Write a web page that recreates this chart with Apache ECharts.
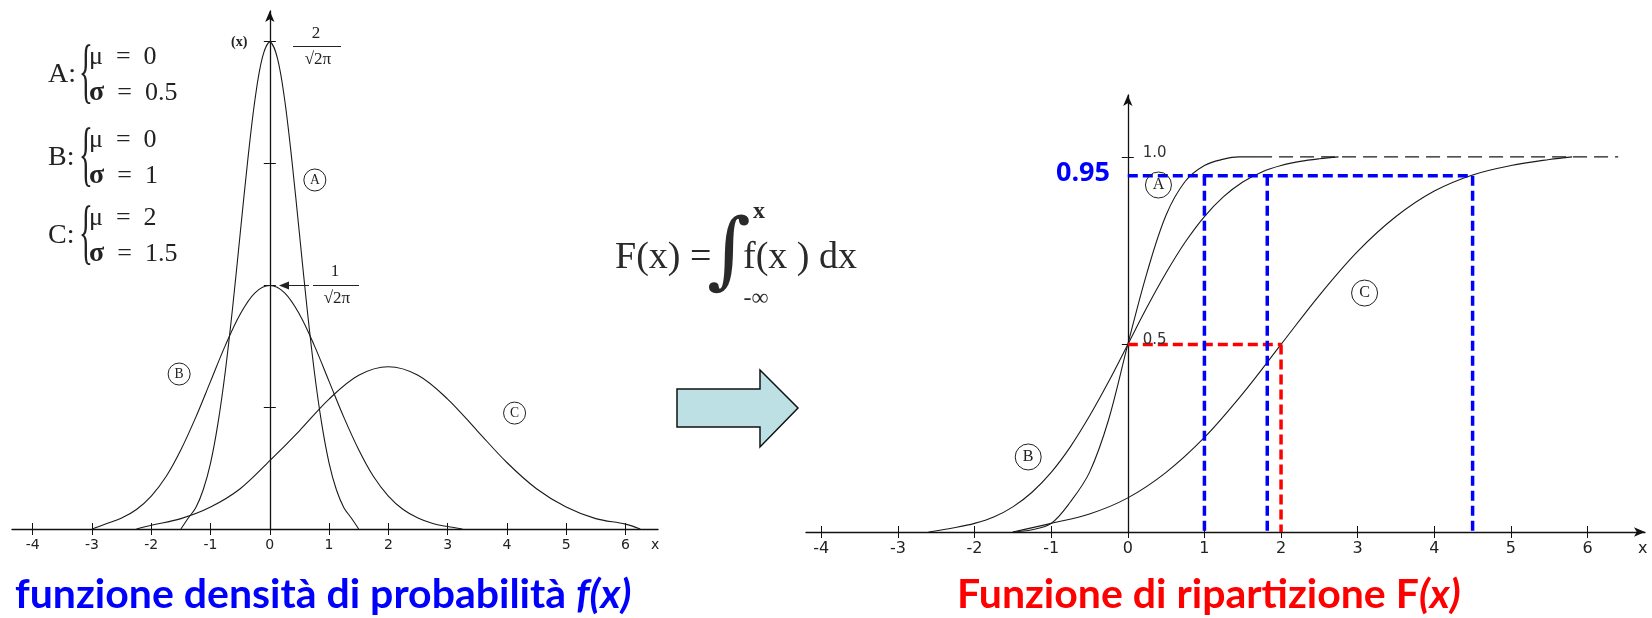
<!DOCTYPE html>
<html>
<head>
<meta charset="utf-8">
<title>Densità e funzione di ripartizione</title>
<script src="https://cdn.jsdelivr.net/npm/echarts@6/dist/echarts.min.js"></script>
<style>
html, body { margin: 0; padding: 0; background: #fff; }
#main { width: 1652px; height: 618px; }
</style>
</head>
<body>
<div id="main"></div>
<script>
// ---- dati: densità f(x) ----
var densXA = [-1.5, -1.375, -1.25, -1.125, -1, -0.875, -0.75, -0.625, -0.5, -0.375, -0.25, -0.125, 0,
              0.125, 0.25, 0.375, 0.5, 0.625, 0.75, 0.875, 1, 1.125, 1.25, 1.375, 1.5];
var densA  = [0, 0.018, 0.035, 0.064, 0.108, 0.173, 0.259, 0.365, 0.484, 0.602, 0.704, 0.773, 0.798,
              0.773, 0.704, 0.602, 0.484, 0.365, 0.259, 0.173, 0.108, 0.064, 0.035, 0.018, 0];
var densXB = [-3, -2.75, -2.5, -2.25, -2, -1.75, -1.5, -1.25, -1, -0.75, -0.5, -0.25, 0,
              0.25, 0.5, 0.75, 1, 1.25, 1.5, 1.75, 2, 2.25, 2.5, 2.75, 3, 3.25];
var densB  = [0, 0.009, 0.018, 0.032, 0.054, 0.086, 0.130, 0.183, 0.242, 0.301, 0.352, 0.387, 0.399,
              0.387, 0.352, 0.301, 0.242, 0.183, 0.130, 0.086, 0.054, 0.032, 0.018, 0.009, 0.004, 0];
var densXC = [-2.25, -2, -1.5, -1, -0.5, 0, 0.5, 1, 1.5, 2, 2.5, 3, 3.5, 4, 4.5, 5, 5.5, 6, 6.25];
var densC  = [0, 0.006, 0.017, 0.036, 0.066, 0.112, 0.161, 0.213, 0.252, 0.266, 0.252, 0.213, 0.161,
              0.109, 0.066, 0.036, 0.017, 0.008, 0];

// ---- funzione di ripartizione F(x) ----
var cumXA = [-1.5, -1.25, -1, -0.75, -0.5, -0.25, 0, 0.25, 0.5, 0.75, 1, 1.25, 1.45, 1.7];
var cumA  = [0, 0.006, 0.023, 0.08, 0.159, 0.3, 0.5, 0.691, 0.845, 0.935, 0.977, 0.994, 1, 1];
var cumXB = [-2.6, -2.25, -2, -1.75, -1.5, -1.25, -1, -0.75, -0.5, -0.25, 0, 0.25, 0.5, 0.75,
             1, 1.25, 1.5, 1.75, 2, 2.25, 2.5, 2.75];
var cumB  = [0, 0.012, 0.023, 0.040, 0.067, 0.106, 0.159, 0.227, 0.309, 0.401, 0.5, 0.599, 0.691, 0.773,
             0.841, 0.894, 0.933, 0.960, 0.977, 0.988, 0.995, 1];
var cumXC = [-1.5, -1, -0.5, 0, 0.5, 1, 1.5, 2, 2.5, 3, 3.5, 4, 4.5, 5, 5.5, 5.8];
var cumC  = [0, 0.023, 0.048, 0.091, 0.159, 0.252, 0.369, 0.5, 0.631, 0.748, 0.841, 0.909, 0.952, 0.977, 0.993, 1];
var asymX = [1.7, 6.4];        // tratteggio a quota 1.0

// quantili evidenziati
var q95 = [1, 1.82, 4.5];
var p95 = 0.95;
var median = 2;
var p50 = 0.5;

// tacche e etichette degli assi
var densXTicks = [-4, -3, -2, -1, 0, 1, 2, 3, 4, 5, 6];
var densYTicks = [0.2, 0.4, 0.6, 0.8];
var cumXTicks = [-4, -3, -2, -1, 0, 1, 2, 3, 4, 5, 6];
var cumYTicks = [0.5, 1.0];

// posizione delle etichette cerchiate (coordinate dati)
var densMarks = { A: [0.76, 0.572], B: [-1.53, 0.254], C: [4.13, 0.19] };
var cumMarks = { A: [0.4, 0.925], B: [-1.3, 0.2], C: [3.09, 0.637] };

var SERIF = "'Liberation Serif', 'DejaVu Serif', serif";
var SANS = "'DejaVu Sans', sans-serif";
var INK = '#1a1a1a';

function pairs(xs, ys) {
	return xs.map(function(x, i) { return [x, ys[i]]; });
}

function circleMark(name, coord, size) {
	return {
		symbol: 'circle',
		symbolSize: size,
		silent: true,
		itemStyle: { color: 'rgba(0,0,0,0)', borderColor: '#222', borderWidth: 1 },
		label: { show: true, formatter: '{b}', color: '#222', fontFamily: SERIF, fontSize: size * 0.62 },
		data: [{ name: name, coord: coord }]
	};
}

function curve(xs, ys, xi, yi, mark) {
	return {
		type: 'line', xAxisIndex: xi, yAxisIndex: yi,
		data: pairs(xs, ys), smooth: 0.35, symbol: 'none', silent: true,
		lineStyle: { color: INK, width: 1.1 },
		markPoint: mark, z: 3
	};
}

function dashed(data, color, width, pattern, mark) {
	return {
		type: 'line', xAxisIndex: 2, yAxisIndex: 2, data: data,
		symbol: 'none', silent: true, z: 4,
		lineStyle: { color: color, width: width, type: pattern, cap: 'butt' },
		markPoint: mark
	};
}

// coppia di assi x: uno con tacche verso il basso, uno con tacche verso l'alto
function xAxes(grid, min, max, ticks, labels, lastLabel, arrow, fs) {
	var main = {
		type: 'value', gridIndex: grid, min: min, max: max, position: 'bottom',
		axisLine: { show: true, onZero: false, symbol: arrow ? ['none', 'arrow'] : 'none', symbolSize: [7, 11],
			lineStyle: { color: '#111', width: 1.3 } },
		axisTick: { show: true, customValues: ticks, length: 6, lineStyle: { color: '#111', width: 1 } },
		axisLabel: { show: true, customValues: labels, margin: 9, color: '#222', fontFamily: SANS, fontSize: fs,
			formatter: function(v) { return v === lastLabel ? 'x' : String(v); } },
		splitLine: { show: false }
	};
	var inner = {
		type: 'value', gridIndex: grid, min: min, max: max, position: 'bottom',
		axisLine: { show: false, onZero: false },
		axisTick: { show: true, inside: true, customValues: ticks, length: 6, lineStyle: { color: '#111', width: 1 } },
		axisLabel: { show: false }, splitLine: { show: false }
	};
	return [main, inner];
}

function yAxes(grid, xIndex, max, ticks) {
	var main = {
		type: 'value', gridIndex: grid, min: 0, max: max, position: 'left',
		axisLine: { show: true, onZero: true, onZeroAxisIndex: xIndex, symbol: ['none', 'arrow'], symbolSize: [7, 11],
			lineStyle: { color: '#111', width: 1.3 } },
		axisTick: { show: true, customValues: ticks, length: 6, lineStyle: { color: '#111', width: 1 } },
		axisLabel: { show: false },
		splitLine: { show: false }
	};
	var inner = {
		type: 'value', gridIndex: grid, min: 0, max: max, position: 'left',
		axisLine: { show: false, onZero: true, onZeroAxisIndex: xIndex },
		axisTick: { show: true, inside: true, customValues: ticks, length: 6, lineStyle: { color: '#111', width: 1 } },
		axisLabel: { show: false }, splitLine: { show: false }
	};
	return [main, inner];
}

// etichette 0.5 / 1.0 a destra dell'asse verticale di F(x)
var cumYLabels = {
	symbol: 'circle', symbolSize: 0, silent: true,
	label: { show: true, position: 'right', distance: 15, offset: [0, -4], formatter: '{b}',
		color: '#333', fontFamily: SANS, fontSize: 15 },
	data: cumYTicks.map(function(v) { return { name: v.toFixed(1), coord: [0, v] }; })
};

var blueDash = [10, 5];
var series = [
	curve(densXA, densA, 0, 0, circleMark('A', densMarks.A, 22)),
	curve(densXB, densB, 0, 0, circleMark('B', densMarks.B, 22)),
	curve(densXC, densC, 0, 0, circleMark('C', densMarks.C, 22)),
	curve(cumXA, cumA, 2, 2, circleMark('A', cumMarks.A, 26)),
	curve(cumXB, cumB, 2, 2, circleMark('B', cumMarks.B, 26)),
	curve(cumXC, cumC, 2, 2, circleMark('C', cumMarks.C, 26)),
	dashed(asymX.map(function(x) { return [x, 1]; }), INK, 1.1, [14, 7], cumYLabels),
	dashed([[0, p95], [q95[q95.length - 1], p95]], '#0000ff', 3.5, blueDash),
	dashed([[0, p50], [median, p50]], '#ff0000', 3.5, blueDash),
	dashed([[median, p50], [median, 0]], '#ff0000', 3.5, blueDash)
];
q95.forEach(function(q) {
	series.push(dashed([[q, p95], [q, 0]], '#0000ff', 3.5, blueDash));
});

// testi e decorazioni
var graphic = [];
function txt(x, y, text, style, extra) {
	var s = { text: text, fill: '#222', fontFamily: SERIF, fontSize: 15, align: 'left', verticalAlign: 'middle' };
	for (var k in style) s[k] = style[k];
	var el = { type: 'text', x: x, y: y, silent: true, style: s };
	for (var e in extra || {}) el[e] = extra[e];
	graphic.push(el);
}
function seg(x1, y1, x2, y2, w) {
	graphic.push({ type: 'line', silent: true, shape: { x1: x1, y1: y1, x2: x2, y2: y2 },
		style: { stroke: '#222', lineWidth: w || 1 } });
}

// etichetta asse e frazioni
txt(231, 42, '(x)', { fontSize: 14, fontWeight: 'bold' });
txt(316, 34, '2', { fontSize: 17, align: 'center' });
seg(293, 46.5, 341, 46.5, 1);
txt(318, 60, '\u221A2\u03C0', { fontSize: 17, align: 'center' });
txt(335, 272, '1', { fontSize: 17, align: 'center' });
seg(313, 285.5, 359, 285.5, 1);
txt(337, 299, '\u221A2\u03C0', { fontSize: 17, align: 'center' });
seg(287, 285.5, 309, 285.5, 1);
graphic.push({ type: 'polygon', silent: true, shape: { points: [[279, 285.5], [289, 281.5], [289, 289.5]] },
	style: { fill: '#222' } });

// parametri delle tre normali
var legendRows = [
	{ name: 'A:', mu: '0', sigma: '0.5', y: 75 },
	{ name: 'B:', mu: '0', sigma: '1', y: 158 },
	{ name: 'C:', mu: '2', sigma: '1.5', y: 236 }
];
legendRows.forEach(function(r) {
	txt(48, r.y, r.name, { fontSize: 28 });
	txt(86, r.y, '{', { fontSize: 72, align: 'center', fontWeight: 'normal' }, { scaleX: 0.4 });
	txt(89, r.y - 18, '\u03BC  =  ' + r.mu, { fontSize: 26 });
	txt(89, r.y + 18, '{s|\u03C3}  =  ' + r.sigma, { fontSize: 26,
		rich: { s: { fontFamily: SERIF, fontSize: 28, fontWeight: 'bold', fill: '#222' } } });
});

// formula dell'integrale
txt(615, 258, 'F(x) =', { fontSize: 38, fill: '#2a2a2a' });
txt(729, 256, '\u222B', { fontSize: 84, align: 'center', fontFamily: "'DejaVu Serif', serif", fill: '#2a2a2a' });
txt(759, 212, 'x', { fontSize: 24, align: 'center', fontWeight: 'bold', fill: '#2a2a2a' });
txt(756, 299, '-\u221E', { fontSize: 24, align: 'center', fill: '#2a2a2a' });
txt(743, 258, 'f(x ) dx', { fontSize: 38, fill: '#2a2a2a' });

// freccia
graphic.push({ type: 'polygon', silent: true,
	shape: { points: [[677, 389], [760, 389], [760, 370], [798, 408], [760, 447], [760, 427], [677, 427]] },
	style: { fill: '#bde0e4', stroke: '#111', lineWidth: 1.5 } });

// 0.95 e titoli
txt(1110, 173, '0.95', { fontSize: 27, align: 'right', fontFamily: "'Open Sans', sans-serif", fontWeight: 'bold', fill: '#0000ff' });
txt(15, 595, '{n|funzione densità di probabilità }{i|f(x)}', {
	rich: {
		n: { fontFamily: 'Lato', fontWeight: 'bold', fontSize: 41, fill: '#0000ff' },
		i: { fontFamily: 'Lato', fontWeight: 'bold', fontStyle: 'italic', fontSize: 41, fill: '#0000ff' }
	}
});
txt(957, 595, '{n|Funzione di ripartizione F}{i|(x)}', {
	rich: {
		n: { fontFamily: 'Lato', fontWeight: 'bold', fontSize: 41, fill: '#ff0000' },
		i: { fontFamily: 'Lato', fontWeight: 'bold', fontStyle: 'italic', fontSize: 41, fill: '#ff0000' }
	}
});

var chart = echarts.init(document.getElementById('main'));
var option = {
	animation: false,
	backgroundColor: '#fff',
	grid: [
		{ left: 12, top: 11, width: 646, height: 518, outerBoundsMode: 'none' },
		{ left: 806, top: 95, width: 839, height: 437, outerBoundsMode: 'none' }
	],
	xAxis: xAxes(0, -4.35, 6.55, densXTicks, densXTicks.concat([6.5]), 6.5, false, 14)
		.concat(xAxes(1, -4.2, 6.75, cumXTicks, cumXTicks.concat([6.72]), 6.72, true, 16)),
	yAxis: yAxes(0, 0, 0.849, densYTicks).concat(yAxes(1, 2, 1.165, cumYTicks)),
	series: series,
	graphic: graphic
};
chart.setOption(option);
window.onresize = chart.resize;
</script>
</body>
</html>
